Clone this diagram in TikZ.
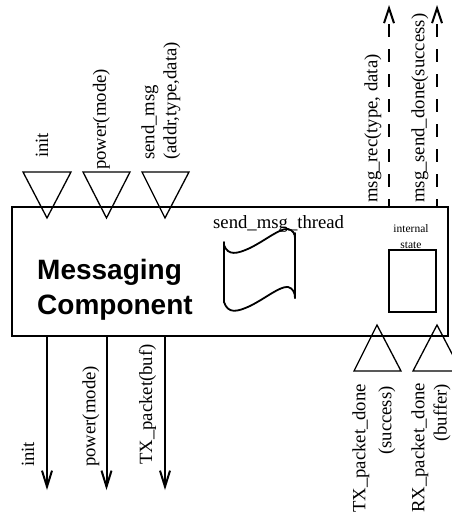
\documentclass[tikz,border=0pt]{standalone}
\usepackage{fontspec}
\setmainfont{Liberation Serif}
\newfontfamily\headsans{Liberation Sans}
\usetikzlibrary{arrows.meta}
\begin{document}
\begin{tikzpicture}[x=1pt,y=-1pt,
  boxline/.style={draw, line width=1.3pt},
  tri/.style={draw, line width=1.3pt, line join=miter},
  outarr/.style={line width=2pt, -{Straight Barb[length=16pt,width=10pt,line width=2pt]}},
  dasharr/.style={line width=2.3pt, dash pattern=on 12.5pt off 12.5pt, dash phase=5.5pt, -{Straight Barb[length=15pt,width=10pt,line width=2pt]}},
  lbl/.style={font=\fontsize{18.7}{21}\selectfont, inner sep=0pt, rotate=90, anchor=west},
  head/.style={font=\headsans\bfseries\fontsize{28}{33}\selectfont, inner sep=0pt, anchor=base west},
  small/.style={font=\fontsize{11.5}{13}\selectfont, inner sep=0pt, anchor=base},
  thread/.style={line width=1.8pt, line cap=round, line join=round}]
\useasboundingbox (0,0) rectangle (452,515);

% main component box
\node[boxline, minimum width=436pt, minimum height=129pt, inner sep=0pt] (comp) at (230,271.5) {};

% input triangles (top)
\draw[tri] (23,172) -- (71,172) -- (47,218) -- cycle;
\draw[tri] (83,172) -- (130,172) -- (106.5,218) -- cycle;
\draw[tri] (142,172) -- (189,172) -- (165,218) -- cycle;

% input labels (top)
\node[lbl] (lInit) at (42,158) {init};
\node[lbl] (lPower) at (101.5,170) {power(mode)};
\node[lbl] (lSend1) at (150,160) {send\_msg};
\node[lbl] (lSend2) at (172,160) {(addr,type,data)};

% outgoing dashed arrows (top right)
\coordinate (d1) at (389,5);
\coordinate (d2) at (437,5);
\draw[dasharr] (comp.north -| d1) -- (d1);
\draw[dasharr] (comp.north -| d2) -- (d2);
\node[lbl] (lRec) at (373,203) {msg\_rec(type, data)};
\node[lbl] (lDone) at (420,203) {msg\_send\_done(success)};

% outgoing arrows (bottom)
\coordinate (o1) at (47,490);
\coordinate (o2) at (106.5,490);
\coordinate (o3) at (165,490);
\draw[outarr] (comp.south -| o1) -- (o1);
\draw[outarr] (comp.south -| o2) -- (o2);
\draw[outarr] (comp.south -| o3) -- (o3);
\node[lbl] (bInit) at (28,467) {init};
\node[lbl] (bPower) at (91,467) {power(mode)};
\node[lbl] (bTX) at (147.5,465) {TX\_packet(buf)};

% input triangles (bottom right)
\draw[tri] (354,371) -- (401,371) -- (377,325) -- cycle;
\draw[tri] (413,371) -- (461,371) -- (437,325) -- cycle;
\node[lbl] (lTXd1) at (361,513) {TX\_packet\_done};
\node[lbl] (lTXd2) at (387,455) {(success)};
\node[lbl] (lRXd1) at (420,513) {RX\_packet\_done};
\node[lbl] (lRXd2) at (442,442) {(buffer)};

% main title
\node[head] (title1) at (37,279) {Messaging};
\node[head] (title2) at (37,314) {Component};

% thread
\node[font=\fontsize{18.7}{21}\selectfont, inner sep=0pt, anchor=base west] (thr) at (213,228) {send\_msg\_thread};
\draw[thread] (224,242) -- (224,302);
\draw[thread] (295,233) -- (295,298);
\draw[thread] (224,245) .. controls (228,256) and (237,254) .. (250,248)
  .. controls (266,240) and (280,228) .. (288,229) .. controls (293,230) and (295,234) .. (295,238);
\draw[thread] (224,302) .. controls (228,314) and (237,312) .. (250,306)
  .. controls (266,298) and (280,286) .. (288,287) .. controls (293,288) and (295,293) .. (295,298);

% internal state
\node[small] (is1) at (411,232) {internal};
\node[small] (is2) at (411,248) {state};
\node[draw, line width=1.2pt, minimum width=47pt, minimum height=62pt, inner sep=0pt] (isbox) at (412.5,281) {};
\end{tikzpicture}
\end{document}
